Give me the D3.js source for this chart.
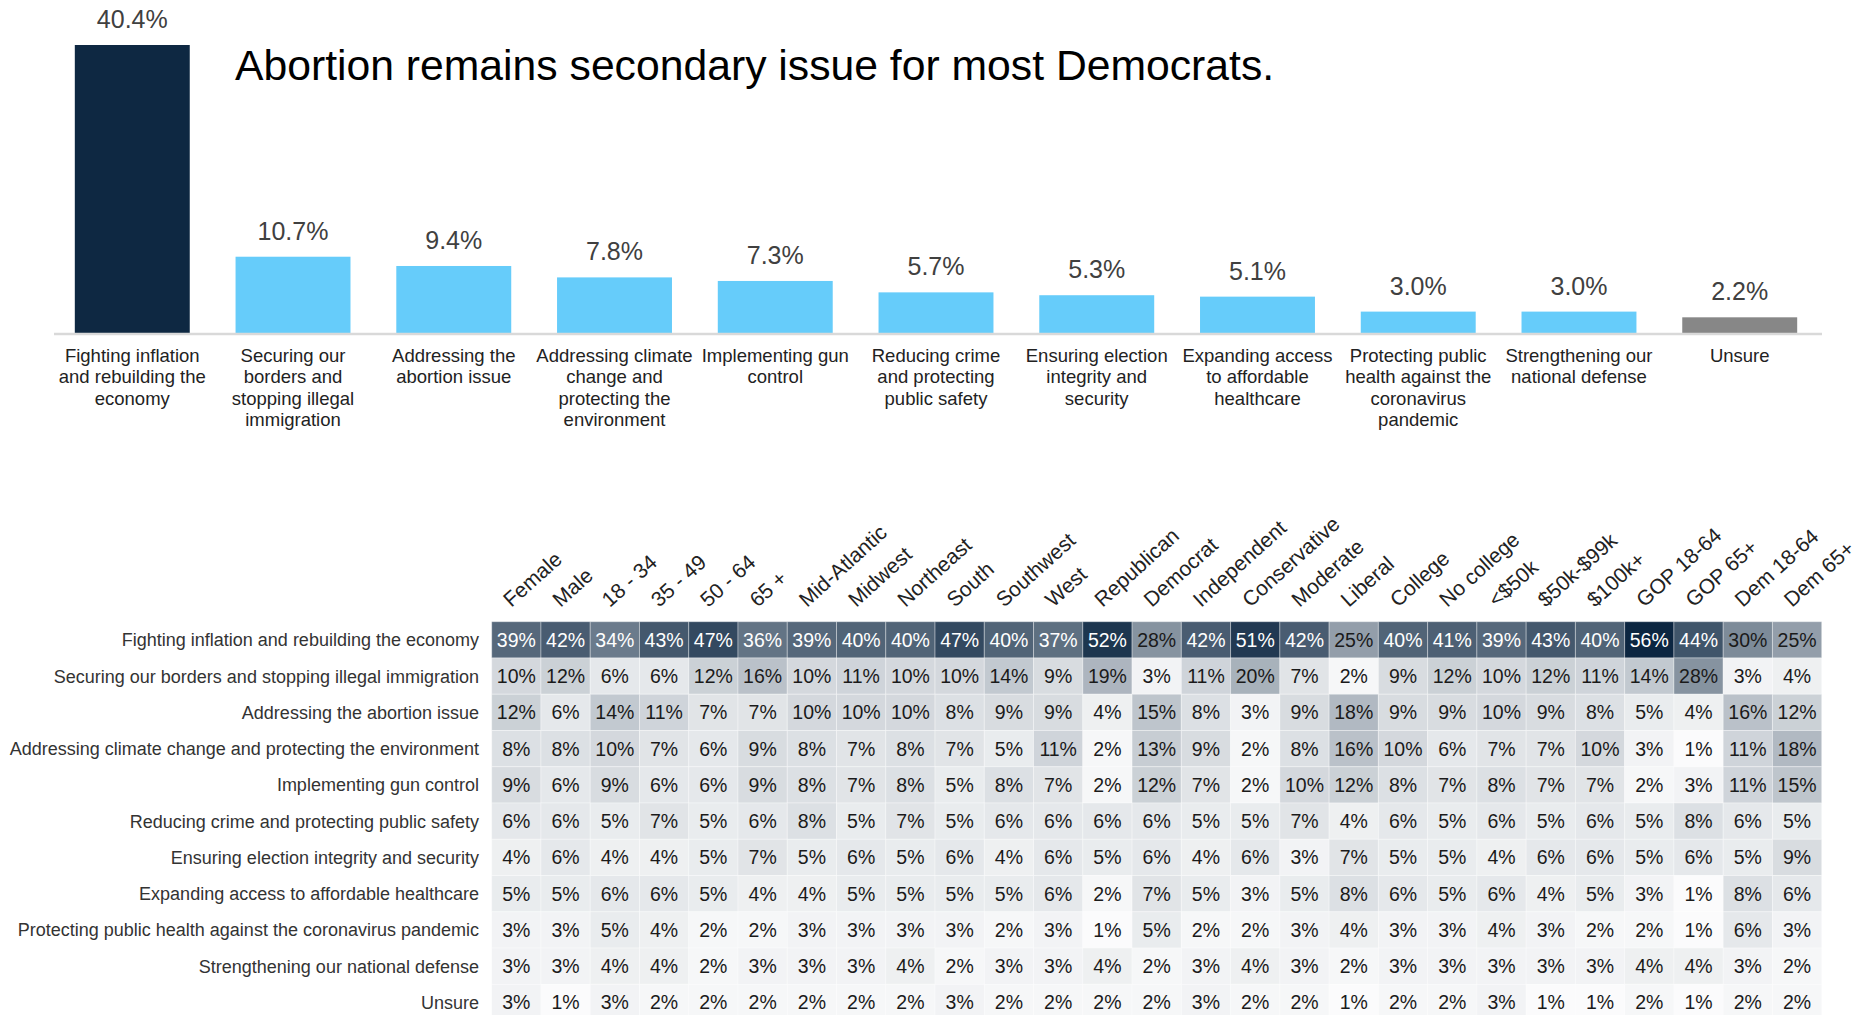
<!DOCTYPE html>
<meta charset="utf-8">
<style>
body { margin: 0; background: #fff; }
svg { font-family: "Liberation Sans", Arial, sans-serif; display: block; }
.barval { fill: #404040; font-size: 25px; }
.barcat { fill: #222; font-size: 18.5px; }
.rowlab { fill: #333; font-size: 18px; }
.collab { fill: #222; font-size: 21px; }
.cellval { font-size: 19.5px; }
</style>
<body>
<svg width="1873" height="1015"></svg>
</body>
<script src="https://d3js.org/d3.v7.min.js"></script>
<script>

var issues = [
  "Fighting inflation and rebuilding the economy",
  "Securing our borders and stopping illegal immigration",
  "Addressing the abortion issue",
  "Addressing climate change and protecting the environment",
  "Implementing gun control",
  "Reducing crime and protecting public safety",
  "Ensuring election integrity and security",
  "Expanding access to affordable healthcare",
  "Protecting public health against the coronavirus pandemic",
  "Strengthening our national defense",
  "Unsure"
];

var overall = [40.4, 10.7, 9.4, 7.8, 7.3, 5.7, 5.3, 5.1, 3.0, 3.0, 2.2];

var groups = ["Female", "Male", "18 - 34", "35 - 49", "50 - 64", "65 +",
  "Mid-Atlantic", "Midwest", "Northeast", "South", "Southwest", "West",
  "Republican", "Democrat", "Independent", "Conservative", "Moderate", "Liberal",
  "College", "No college", "<$50k", "$50k-$99k", "$100k+",
  "GOP 18-64", "GOP 65+", "Dem 18-64", "Dem 65+"];

// one row per issue, one value per group
var inflation  = [39, 42, 34, 43, 47, 36, 39, 40, 40, 47, 40, 37, 52, 28, 42, 51, 42, 25, 40, 41, 39, 43, 40, 56, 44, 30, 25];
var borders    = [10, 12, 6, 6, 12, 16, 10, 11, 10, 10, 14, 9, 19, 3, 11, 20, 7, 2, 9, 12, 10, 12, 11, 14, 28, 3, 4];
var abortion   = [12, 6, 14, 11, 7, 7, 10, 10, 10, 8, 9, 9, 4, 15, 8, 3, 9, 18, 9, 9, 10, 9, 8, 5, 4, 16, 12];
var climate    = [8, 8, 10, 7, 6, 9, 8, 7, 8, 7, 5, 11, 2, 13, 9, 2, 8, 16, 10, 6, 7, 7, 10, 3, 1, 11, 18];
var guns       = [9, 6, 9, 6, 6, 9, 8, 7, 8, 5, 8, 7, 2, 12, 7, 2, 10, 12, 8, 7, 8, 7, 7, 2, 3, 11, 15];
var crime      = [6, 6, 5, 7, 5, 6, 8, 5, 7, 5, 6, 6, 6, 6, 5, 5, 7, 4, 6, 5, 6, 5, 6, 5, 8, 6, 5];
var election   = [4, 6, 4, 4, 5, 7, 5, 6, 5, 6, 4, 6, 5, 6, 4, 6, 3, 7, 5, 5, 4, 6, 6, 5, 6, 5, 9];
var healthcare = [5, 5, 6, 6, 5, 4, 4, 5, 5, 5, 5, 6, 2, 7, 5, 3, 5, 8, 6, 5, 6, 4, 5, 3, 1, 8, 6];
var covid      = [3, 3, 5, 4, 2, 2, 3, 3, 3, 3, 2, 3, 1, 5, 2, 2, 3, 4, 3, 3, 4, 3, 2, 2, 1, 6, 3];
var defense    = [3, 3, 4, 4, 2, 3, 3, 3, 4, 2, 3, 3, 4, 2, 3, 4, 3, 2, 3, 3, 3, 3, 3, 4, 4, 3, 2];
var unsure     = [3, 1, 3, 2, 2, 2, 2, 2, 2, 3, 2, 2, 2, 2, 3, 2, 2, 1, 2, 2, 3, 1, 1, 2, 1, 2, 2];

var table = [inflation, borders, abortion, climate, guns, crime, election, healthcare, covid, defense, unsure];

var svg = d3.select("svg");

// ---- top bar chart ----
var x = d3.scaleBand().domain(issues).range([29, 1843]).padding(0.285);
var y = d3.scaleLinear().domain([0, 40.4]).range([333, 45]);

function barColor(d, i) {
  if (i == 0) return "#0e2842";
  if (issues[i] == "Unsure") return "#878787";
  return "#66ccfa";
}

var bars = svg.append("g").attr("class", "bars");
bars.selectAll("rect")
  .data(overall)
  .enter().append("rect")
  .attr("x", function(d, i) { return x(issues[i]); })
  .attr("y", function(d) { return y(d); })
  .attr("width", x.bandwidth())
  .attr("height", function(d) { return y(0) - y(d); })
  .attr("fill", barColor);

bars.selectAll("text")
  .data(overall)
  .enter().append("text")
  .attr("class", "barval")
  .attr("x", function(d, i) { return x(issues[i]) + x.bandwidth() / 2; })
  .attr("y", function(d) { return y(d) - 17; })
  .attr("text-anchor", "middle")
  .text(function(d) { return d.toFixed(1) + "%"; });

svg.append("line")
  .attr("x1", 54).attr("x2", 1822)
  .attr("y1", y(0) + 1).attr("y2", y(0) + 1)
  .attr("stroke", "#d9d9d9").attr("stroke-width", 2.5);

// category labels, wrapped to fit under each bar
var cats = svg.append("g").selectAll("text")
  .data(issues)
  .enter().append("text")
  .attr("class", "barcat")
  .attr("text-anchor", "middle")
  .attr("x", function(d) { return x(d) + x.bandwidth() / 2; })
  .attr("y", 362)
  .each(function(d) { wrap(d3.select(this), d, 160); });

function wrap(el, str, maxw) {
  var words = str.split(" "), line = [];
  var cx = el.attr("x");
  var ts = el.append("tspan").attr("x", cx).attr("dy", 0);
  words.forEach(function(w) {
    line.push(w);
    ts.text(line.join(" "));
    if (ts.node().getComputedTextLength() > maxw && line.length > 1) {
      line.pop();
      ts.text(line.join(" "));
      line = [w];
      ts = el.append("tspan").attr("x", cx).attr("dy", 21.3).text(w);
    }
  });
}

svg.append("text")
  .attr("x", 235).attr("y", 80)
  .attr("fill", "#000")
  .style("font-size", "42.7px")
  .text("Abortion remains secondary issue for most Democrats.");

// ---- heatmap ----
var hx = d3.scaleBand().domain(groups).range([491.7, 1821.7]);
var hy = d3.scaleBand().domain(issues).range([621.7, 621.7 + 36.26 * issues.length]);
var heat = d3.scaleLinear().domain([0, 56]).range(["#ffffff", "#0c2641"]);

var rows = svg.append("g").selectAll("g")
  .data(table)
  .enter().append("g")
  .attr("transform", function(d, i) { return "translate(0," + hy(issues[i]) + ")"; });

rows.selectAll("rect")
  .data(function(d) { return d; })
  .enter().append("rect")
  .attr("x", function(d, j) { return hx(groups[j]); })
  .attr("width", hx.bandwidth())
  .attr("height", hy.bandwidth())
  .attr("fill", function(d) { return heat(d); })
  .attr("stroke", "rgba(255,255,255,0.35)")
  .attr("stroke-width", 1);

rows.selectAll("text")
  .data(function(d) { return d; })
  .enter().append("text")
  .attr("class", "cellval")
  .attr("x", function(d, j) { return hx(groups[j]) + hx.bandwidth() / 2; })
  .attr("y", hy.bandwidth() / 2)
  .attr("dy", "0.36em")
  .attr("text-anchor", "middle")
  .attr("fill", function(d) { return d > 32 ? "#fff" : "#1a1a1a"; })
  .text(function(d) { return d + "%"; });

svg.append("g").selectAll("text")
  .data(issues)
  .enter().append("text")
  .attr("class", "rowlab")
  .attr("x", 479)
  .attr("y", function(d) { return hy(d) + hy.bandwidth() / 2; })
  .attr("dy", "0.36em")
  .attr("text-anchor", "end")
  .text(function(d) { return d; });

svg.append("g").selectAll("text")
  .data(groups)
  .enter().append("text")
  .attr("class", "collab")
  .attr("transform", function(d) {
    return "translate(" + (hx(d) + hx.bandwidth() / 2 - 5) + ",608) rotate(-42)";
  })
  .text(function(d) { return d; });

</script>
